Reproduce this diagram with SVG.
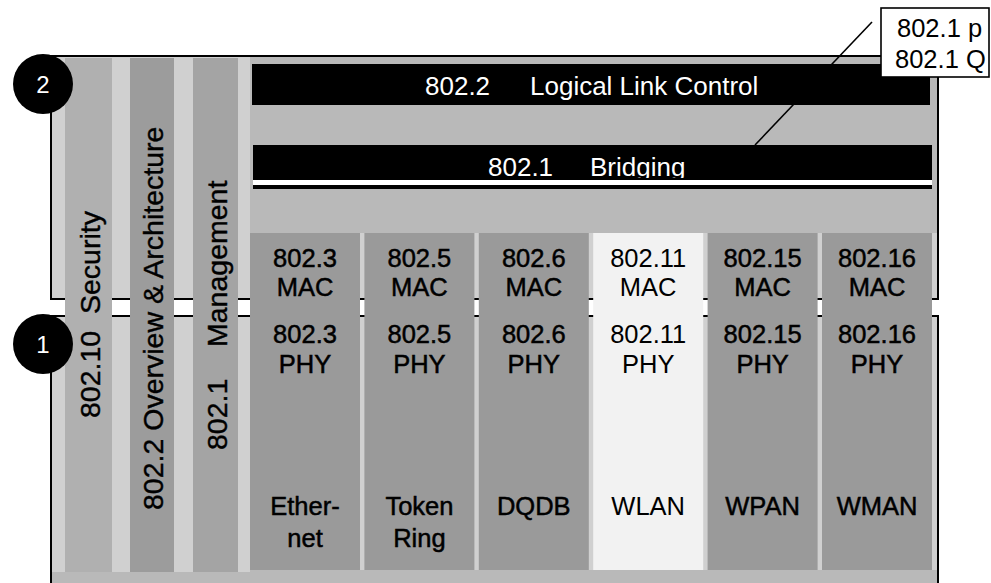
<svg xmlns="http://www.w3.org/2000/svg" width="991" height="583" viewBox="0 0 991 583">
<style>
text{font-family:"Liberation Sans",Arial,sans-serif;}
.lbl{font-size:25.5px;fill:#000;text-anchor:middle}
.dk{stroke:#000;stroke-width:0.5}
.vt{font-size:28.5px;fill:#000;stroke:#000;stroke-width:0.4}
.wt{font-size:26px;fill:#fff}
.frame{fill:#b9b9b9;stroke:#000;stroke-width:2}
.sep{fill:#d0d0d0}
.col{fill:#9a9a9a}
.wcol{fill:#f2f2f2}
.badge{fill:#000}
.bt{font-size:24px;fill:#fff;text-anchor:middle}
.blk{fill:#000}
.lead{stroke:#000;stroke-width:1.6;fill:none}
</style>
<defs>
<clipPath id="clipBr"><rect x="252" y="145" width="681" height="33"/></clipPath>
</defs>
<rect width="991" height="583" fill="#fff"/>
<g id="layer2-frame"><rect class="frame" x="51" y="56" width="887" height="243"/></g>
<g id="layer1-frame"><rect class="frame" x="51" y="316" width="887" height="290"/></g>
<g id="backgrounds">
<rect class="sep" x="52" y="57" width="198" height="241"/>
<rect class="sep" x="52" y="317" width="198" height="255"/>
<rect class="sep" x="248" y="233" width="689" height="65"/>
<rect class="sep" x="248" y="317" width="689" height="253"/>
</g>
<g id="connectors"><line class="lead" x1="872" y1="22" x2="755" y2="145"/></g>
<g id="bar-security"><rect x="65" y="58" width="47" height="514" fill="#b0b0b0"/>
<text class="vt" transform="translate(100,418) rotate(-90)"><tspan x="0" y="0">802.10</tspan><tspan x="104" y="0">Security</tspan></text></g>
<g id="bar-overview"><rect x="130" y="58" width="44" height="514" fill="#9c9c9c"/>
<text class="vt" transform="translate(163,510) rotate(-90)" x="0" y="0">802.2 Overview &amp; Architecture</text></g>
<g id="bar-management"><rect x="193" y="58" width="45" height="514" fill="#a4a4a4"/>
<text class="vt" transform="translate(227,450) rotate(-90)"><tspan x="0" y="0">802.1</tspan><tspan x="103" y="0">Management</tspan></text></g>
<g id="bar-llc"><rect class="blk" x="252" y="64" width="678" height="41"/>
<text class="wt" y="95"><tspan x="425">802.2</tspan><tspan x="530">Logical Link Control</tspan></text></g>
<g id="bar-bridging"><rect class="blk" x="253" y="145" width="679" height="35"/>
<rect x="253" y="180" width="679" height="5" fill="#fff"/>
<rect class="blk" x="253" y="185" width="679" height="4"/>
<text class="wt" y="176" clip-path="url(#clipBr)"><tspan x="488">802.1</tspan><tspan x="590">Bridging</tspan></text></g>
<g id="col-802-3"><rect class="col" x="250" y="233" width="110" height="337"/>
<g class="lbl dk"><text x="305" y="267">802.3</text><text x="305" y="296">MAC</text>
<text x="305" y="343">802.3</text><text x="305" y="373">PHY</text>
<text x="305" y="515">Ether-</text><text x="305" y="547">net</text></g></g>
<g id="col-802-5"><rect class="col" x="364.4" y="233" width="110" height="337"/>
<g class="lbl dk"><text x="419.4" y="267">802.5</text><text x="419.4" y="296">MAC</text>
<text x="419.4" y="343">802.5</text><text x="419.4" y="373">PHY</text>
<text x="419.4" y="515">Token</text><text x="419.4" y="547">Ring</text></g></g>
<g id="col-802-6"><rect class="col" x="478.8" y="233" width="110" height="337"/>
<g class="lbl dk"><text x="533.8" y="267">802.6</text><text x="533.8" y="296">MAC</text>
<text x="533.8" y="343">802.6</text><text x="533.8" y="373">PHY</text>
<text x="533.8" y="515">DQDB</text></g></g>
<g id="col-802-11"><rect class="wcol" x="593.2" y="233" width="110" height="337"/>
<g class="lbl"><text x="648.2" y="267">802.11</text><text x="648.2" y="296">MAC</text>
<text x="648.2" y="343">802.11</text><text x="648.2" y="373">PHY</text>
<text x="648.2" y="515">WLAN</text></g></g>
<g id="col-802-15"><rect class="col" x="707.6" y="233" width="110" height="337"/>
<g class="lbl dk"><text x="762.6" y="267">802.15</text><text x="762.6" y="296">MAC</text>
<text x="762.6" y="343">802.15</text><text x="762.6" y="373">PHY</text>
<text x="762.6" y="515">WPAN</text></g></g>
<g id="col-802-16"><rect class="col" x="822" y="233" width="110" height="337"/>
<g class="lbl dk"><text x="877" y="267">802.16</text><text x="877" y="296">MAC</text>
<text x="877" y="343">802.16</text><text x="877" y="373">PHY</text>
<text x="877" y="515">WMAN</text></g></g>
<g id="badge-2"><circle class="badge" cx="43" cy="84" r="30"/><text class="bt" x="43" y="93">2</text></g>
<g id="badge-1"><circle class="badge" cx="43" cy="344" r="30"/><text class="bt" x="43" y="353">1</text></g>
<g id="callout"><rect x="881" y="8" width="108" height="69" fill="#fff" stroke="#000" stroke-width="1.6"/>
<text class="lbl" style="text-anchor:start" x="897" y="37">802.1 p</text>
<text class="lbl" style="text-anchor:start" x="895" y="68">802.1 Q</text></g>
</svg>
